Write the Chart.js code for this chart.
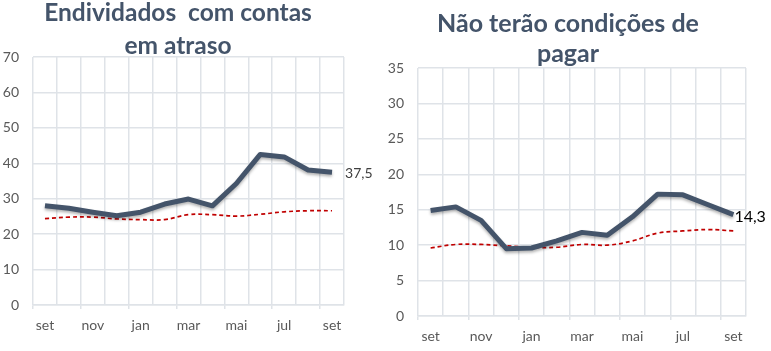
<!DOCTYPE html>
<html>

<head>
  <script src="https://cdn.jsdelivr.net/npm/chart.js@4/dist/chart.umd.min.js"></script>
  <style>
    body { margin: 0; background: #fff; }
    canvas { position: absolute; top: 0; }
  </style>
</head>

<body>
  <canvas id="chartAtraso" width="385" height="351" style="left:0"></canvas>
  <canvas id="chartPagar" width="386" height="351" style="left:385px"></canvas>

  <script type="text/javascript">
    // months, set -> set
    var meses = ['set', 'out', 'nov', 'dez', 'jan', 'fev', 'mar', 'abr', 'mai', 'jun', 'jul', 'ago', 'set'];

    // endividados com contas em atraso (%)
    var atraso = [28.0, 27.3, 26.2, 25.2, 26.2, 28.5, 29.9, 28.0, 34.3, 42.5, 41.8, 38.1, 37.5];
    var atrasoMedia = [24.4, 24.8, 24.8, 24.3, 24.1, 24.1, 25.5, 25.5, 25.1, 25.6, 26.3, 26.6, 26.6];

    // nao terao condicoes de pagar (%)
    var semCondicoes = [14.9, 15.4, 13.5, 9.5, 9.6, 10.6, 11.8, 11.4, 14.0, 17.2, 17.1, 15.7, 14.3];
    var semCondicoesMedia = [9.6, 10.1, 10.1, 9.9, 9.7, 9.7, 10.1, 10.0, 10.6, 11.7, 12.0, 12.2, 12.0];

    var gridCor = '#dfe3e8';
    var tickCor = '#595959';

    // title drawn by hand because it overlaps the plot area in the original
    var tituloPlugin = {
      id: 'titulo',
      afterDraw: function(chart, args, opts) {
        var ctx = chart.ctx;
        ctx.save();
        ctx.font = 'bold ' + opts.size + 'px Lato';
        ctx.fillStyle = '#44546A';
        ctx.textAlign = 'center';
        ctx.textBaseline = 'alphabetic';
        opts.lines.forEach(function(l, i) {
          ctx.fillText(l, opts.x, opts.y[i]);
        });
        ctx.restore();
      }
    };

    // value label after the last point
    var rotuloPlugin = {
      id: 'rotulo',
      afterDatasetsDraw: function(chart, args, opts) {
        var meta = chart.getDatasetMeta(0);
        var last = meta.data[meta.data.length - 1];
        var val = chart.data.datasets[0].data[meta.data.length - 1];
        var ctx = chart.ctx;
        ctx.save();
        ctx.font = opts.size + 'px Lato';
        ctx.fillStyle = opts.color;
        ctx.textAlign = 'left';
        ctx.textBaseline = 'middle';
        ctx.fillText(val.toFixed(1).replace('.', ','), last.x + opts.dx, last.y + opts.dy);
        ctx.restore();
      }
    };

    // soft shadow under the main line
    var sombraPlugin = {
      id: 'sombra',
      beforeDatasetDraw: function(chart, args) {
        if (args.index !== 0) return;
        var ctx = chart.ctx;
        ctx.save();
        ctx.shadowColor = 'rgba(0,0,0,0.3)';
        ctx.shadowBlur = 3;
        ctx.shadowOffsetY = 2;
      },
      afterDatasetDraw: function(chart, args) {
        if (args.index !== 0) return;
        chart.ctx.restore();
      }
    };

    function makeChart(id, serie, media, cfg) {
      var ctx = document.getElementById(id).getContext('2d');
      return new Chart(ctx, {
        type: 'line',
        data: {
          labels: meses,
          datasets: [{
            data: serie,
            borderColor: '#44546A',
            borderWidth: 5,
            borderJoinStyle: 'round',
            pointRadius: 0,
            tension: 0,
            fill: false
          }, {
            data: media,
            borderColor: '#C00000',
            borderWidth: 1.7,
            borderDash: [4, 3],
            pointRadius: 0,
            tension: 0.4,
            fill: false
          }]
        },
        plugins: [sombraPlugin, tituloPlugin, rotuloPlugin],
        options: {
          responsive: false,
          animation: false,
          events: [],
          layout: {
            padding: { top: cfg.top, right: cfg.right, left: 0, bottom: 0 }
          },
          plugins: {
            legend: { display: false },
            tooltip: { enabled: false },
            titulo: cfg.titulo,
            rotulo: cfg.rotulo
          },
          scales: {
            x: {
              offset: true,
              grid: {
                offset: true,
                color: gridCor,
                lineWidth: 1.5,
                tickLength: 4,
                tickColor: function(c) {
                  return c.index % 2 === 0 ? gridCor : 'transparent';
                }
              },
              border: { color: gridCor, width: 1.5 },
              ticks: {
                autoSkip: false,
                maxRotation: 0,
                padding: cfg.xpad,
                color: tickCor,
                font: { family: 'Lato', size: 14 },
                callback: function(v, i) {
                  return i % 2 === 0 ? meses[i] : '';
                }
              },
              afterFit: function(s) { s.height = cfg.xh; }
            },
            y: {
              min: 0,
              max: cfg.max,
              ticks: {
                stepSize: cfg.step,
                padding: 14,
                color: tickCor,
                font: { family: 'Lato', size: 14 }
              },
              grid: { color: gridCor, lineWidth: 1.5, drawTicks: false },
              border: { display: false },
              afterFit: function(s) { s.width = 33; }
            }
          }
        }
      });
    }

    makeChart('chartAtraso', atraso, atrasoMedia, {
      top: 57, right: 41, xh: 46, xpad: 8, max: 70, step: 10,
      titulo: { lines: ['Endividados  com contas', 'em atraso'], x: 178, y: [21, 54], size: 24.5 },
      rotulo: { size: 14, color: '#404040', dx: 13, dy: 1 }
    });

    makeChart('chartPagar', semCondicoes, semCondicoesMedia, {
      top: 68, right: 25, xh: 35, xpad: 8, max: 35, step: 5,
      titulo: { lines: ['Não terão condições de', 'pagar'], x: 183, y: [32, 62], size: 25 },
      rotulo: { size: 16, color: '#000', dx: 1, dy: 2 }
    });
  </script>
</body>

</html>
